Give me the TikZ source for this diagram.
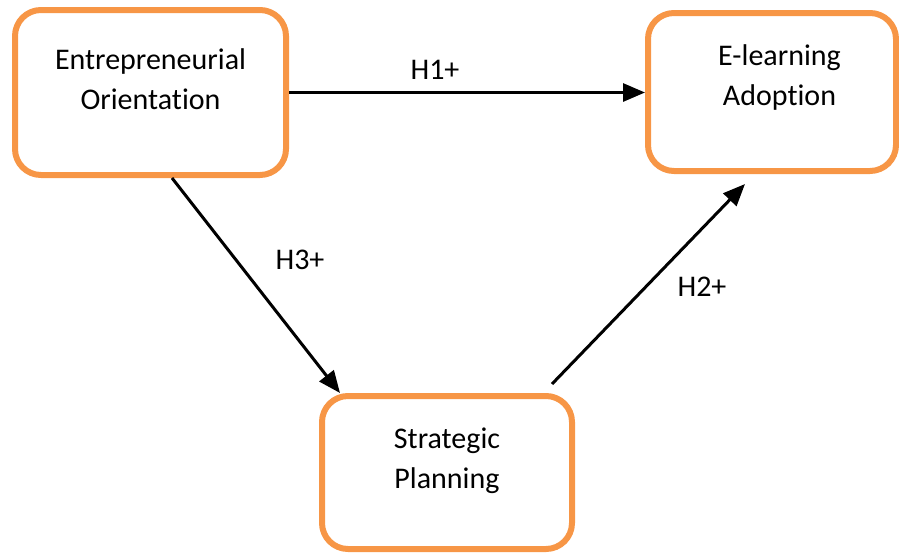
\documentclass[tikz,border=0pt]{standalone}
\usepackage{fontspec}
\setmainfont{Carlito}[Ligatures=NoCommon]
\usepackage{xcolor}
\usetikzlibrary{arrows.meta, calc}
\definecolor{myorange}{RGB}{247,150,70}

\begin{document}
\begin{tikzpicture}[x=0.5pt,y=-0.5pt,
  box/.style={draw=myorange, line width=3pt, rounded corners=13pt, inner sep=0pt},
  txt/.style={align=center, font=\fontsize{15}{20}\selectfont},
  hyp/.style={-{Triangle[length=11pt,width=9pt]}, line width=1.5pt},
  lab/.style={font=\fontsize{15}{18}\selectfont}]
\useasboundingbox (0,0) rectangle (899,552);
%boxes
\node[box, minimum width=135.5pt, minimum height=82.5pt] (eo) at (150.5,92.5) {};
\node[box, minimum width=124pt, minimum height=79pt] (ela) at (772,92) {};
\node[box, minimum width=125pt, minimum height=76.5pt] (sp) at (447,472.5) {};

\node[txt] (eotext) at ($(eo)+(0,-13.5)$) {Entrepreneurial\\Orientation};
\node[txt] (elatext) at ($(ela)+(7.5,-15)$) {E-learning\\Adoption};
\node[txt] (sptext) at ($(sp)+(0,-11.5)$) {Strategic\\Planning};

%hypotheses
\draw[hyp] (eo.east) -- (eo.east -| ela.west);
\draw[hyp] ($(eo.south)+(21.5,0)$) -- ($(sp.north)+(-107,0)$);
\draw[hyp] ($(sp.north)+(105,-9)$) -- ($(ela.south)+(-27,10)$);

\node[lab] (h1) at (435,70) {H1+};
\node[lab] (h3) at (300,260) {H3+};
\node[lab] (h2) at (702,287) {H2+};
\end{tikzpicture}
\end{document}
